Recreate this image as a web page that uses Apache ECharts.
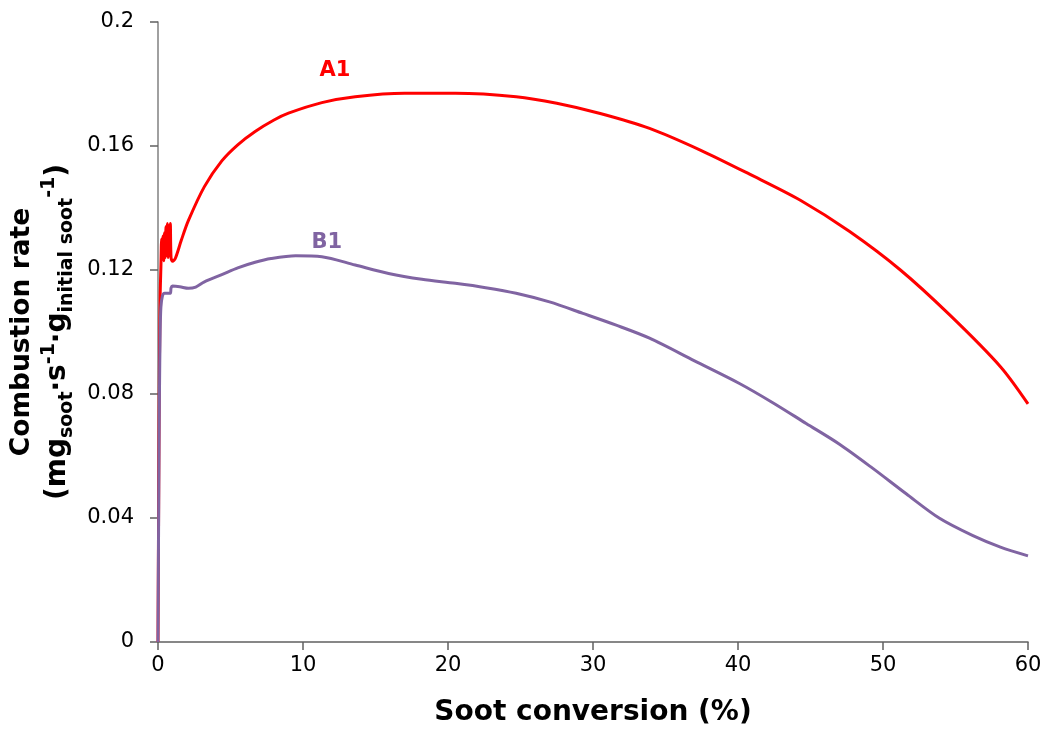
<!DOCTYPE html>
<html>
<head>
<meta charset="utf-8">
<title>Combustion rate vs soot conversion</title>
<script src="https://cdn.jsdelivr.net/npm/echarts@6/dist/echarts.min.js"></script>
<style>
  html, body { margin: 0; padding: 0; background: #ffffff; }
  #chart { width: 1051px; height: 735px; }
</style>
</head>
<body>
<div id="chart"></div>
<script>
// Soot conversion (%) and combustion rate samples for each sample
const seriesNames = ['A1', 'B1'];
const seriesColors = ['#ff0000', '#8064a2'];

const a1Conversion = [0, 0.05, 0.1, 0.15, 0.2, 0.25, 0.3, 0.35, 0.4, 0.45, 0.5, 0.55, 0.6, 0.65, 0.7, 0.75, 0.8, 0.85, 0.9, 1.0, 1.2, 1.6, 2.1, 3.2, 4.4, 5.5, 6.7, 8, 9, 11.3, 13.6, 17, 20.5, 24.7, 27.5, 30.5, 33.9, 37.4, 40.8, 44.3, 47.7, 51.2, 54.6, 58.1, 60];
const a1Rate = [0, 0.05, 0.09, 0.112, 0.121, 0.13, 0.124, 0.131, 0.123, 0.132, 0.124, 0.134, 0.125, 0.135, 0.124, 0.134, 0.126, 0.135, 0.124, 0.1228, 0.1238, 0.1295, 0.136, 0.1469, 0.1552, 0.1604, 0.1647, 0.1684, 0.1706, 0.174, 0.1759, 0.177, 0.177, 0.1759, 0.1738, 0.1705, 0.1657, 0.1587, 0.1509, 0.1425, 0.1324, 0.12, 0.1055, 0.0888, 0.0768];

const b1Conversion = [0, 0.05, 0.1, 0.15, 0.2, 0.3, 0.45, 0.85, 0.9, 1.0, 1.5, 2.1, 2.6, 3.2, 4.4, 5.5, 6.7, 7.8, 9.5, 11.3, 13.6, 15.9, 18.2, 20.5, 22.6, 24.7, 27, 29.3, 31.6, 33.9, 37, 40.1, 42.4, 44.7, 47, 49.3, 51.6, 53.9, 56.2, 58.1, 60];
const b1Rate = [0, 0.045, 0.08, 0.1, 0.108, 0.1115, 0.1125, 0.1125, 0.1142, 0.1148, 0.1146, 0.1141, 0.1145, 0.1162, 0.1185, 0.1207, 0.1225, 0.1237, 0.1246, 0.1243, 0.1216, 0.1189, 0.117, 0.1157, 0.1143, 0.1125, 0.1097, 0.106, 0.1022, 0.098, 0.0907, 0.0834, 0.0772, 0.0705, 0.0638, 0.056, 0.0478, 0.0399, 0.0343, 0.0306, 0.0278];

// Where the series name labels sit (data coordinates)
const nameLabelAt = [[12.2, 0.1845], [11.65, 0.129]];

const xTicks = { min: 0, max: 60, interval: 10 };
const yTicks = { min: 0, max: 0.2, interval: 0.04 };

const pairs = (xs, ys) => xs.map((x, i) => [x, ys[i]]);
const seriesData = [pairs(a1Conversion, a1Rate), pairs(b1Conversion, b1Rate)];

const chart = echarts.init(document.getElementById('chart'), null, { renderer: 'canvas' });

const tickFont = { fontFamily: 'DejaVu Sans', fontSize: 21, color: '#000000' };

chart.setOption({
  animation: false,
  backgroundColor: '#ffffff',
  grid: { left: 158, right: 23, top: 22, bottom: 93, containLabel: false },
  xAxis: {
    type: 'value',
    min: xTicks.min, max: xTicks.max, interval: xTicks.interval,
    name: 'Soot conversion (%)',
    nameLocation: 'middle',
    nameGap: 57,
    nameTextStyle: { fontFamily: 'DejaVu Sans', fontWeight: 'bold', fontSize: 28, color: '#000000' },
    axisLine: { show: true, onZero: false, lineStyle: { color: '#606060', width: 1.5 } },
    axisTick: { show: true, inside: false, length: 8, lineStyle: { color: '#606060', width: 1.5 } },
    axisLabel: Object.assign({ margin: 13 }, tickFont),
    splitLine: { show: false }
  },
  yAxis: {
    type: 'value',
    min: yTicks.min, max: yTicks.max, interval: yTicks.interval,
    name: '{t|Combustion rate}\n{p|(mg}{sub|soot}{p|·s}{sup|-1}{p|·g}{sub|initial soot}{sup|-1}{p|)}',
    nameLocation: 'middle',
    nameRotate: 90,
    nameGap: 79,
    nameTextStyle: {
      color: '#000000',
      fontFamily: 'DejaVu Sans',
      fontWeight: 'bold',
      rich: {
        t: { fontFamily: 'DejaVu Sans', fontWeight: 'bold', fontSize: 26.5, lineHeight: 34, color: '#000000' },
        p: { fontFamily: 'DejaVu Sans', fontWeight: 'bold', fontSize: 28, lineHeight: 37, color: '#000000' },
        sub: { fontFamily: 'DejaVu Sans', fontWeight: 'bold', fontSize: 19, lineHeight: 15, verticalAlign: 'bottom', color: '#000000' },
        sup: { fontFamily: 'DejaVu Sans', fontWeight: 'bold', fontSize: 19, lineHeight: 15, verticalAlign: 'top', color: '#000000' }
      }
    },
    axisLine: { show: true, onZero: false, lineStyle: { color: '#808080', width: 1.5 } },
    axisTick: { show: true, inside: false, length: 8, lineStyle: { color: '#606060', width: 1.5 } },
    axisLabel: Object.assign({ margin: 24 }, tickFont),
    splitLine: { show: false }
  },
  series: seriesNames.map((name, i) => ({
    name: name,
    type: 'line',
    data: seriesData[i],
    showSymbol: false,
    smooth: 0.3,
    lineStyle: { color: seriesColors[i], width: 3 },
    itemStyle: { color: seriesColors[i] },
    markPoint: {
      symbol: 'circle',
      symbolSize: 0,
      silent: true,
      label: {
        show: true,
        position: 'inside',
        formatter: name,
        fontFamily: 'DejaVu Sans',
        fontWeight: 'bold',
        fontSize: 21,
        color: seriesColors[i]
      },
      data: [{ coord: nameLabelAt[i] }]
    }
  }))
});
</script>
</body>
</html>
